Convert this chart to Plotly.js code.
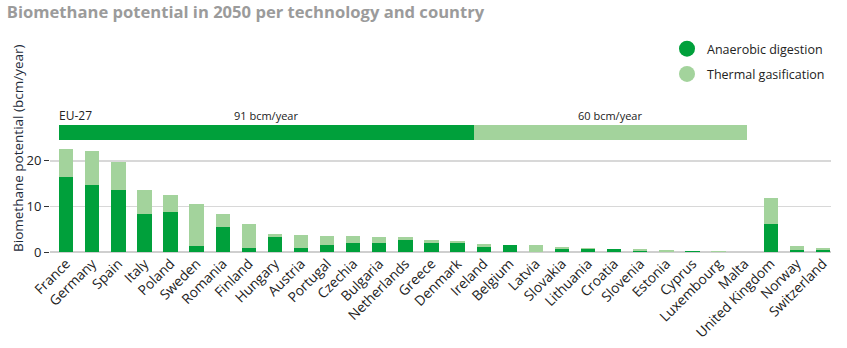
<!DOCTYPE html>
<html>
<head>
<meta charset="utf-8">
<script src="https://cdn.plot.ly/plotly-3.0.1.min.js"></script>
<style>html,body{margin:0;padding:0;background:#fff;}#chart{width:847px;height:348px;}</style>
</head>
<body>
<div id="chart"></div>
<script>
var countries = ["France","Germany","Spain","Italy","Poland","Sweden","Romania","Finland","Hungary","Austria","Portugal","Czechia","Bulgaria","Netherlands","Greece","Denmark","Ireland","Belgium","Latvia","Slovakia","Lithuania","Croatia","Slovenia","Estonia","Cyprus","Luxembourg","Malta","United Kingdom","Norway","Switzerland"];
var anaerobic = [16.5,14.8,13.7,8.3,8.8,1.4,5.4,0.95,3.2,0.8,1.6,1.9,2.0,2.7,2.05,2.05,1.2,1.45,0.1,0.6,0.7,0.7,0.3,0.1,0.15,0.05,0.02,6.1,0.45,0.4];
var thermal = [6.1,7.4,6.1,5.4,3.8,9.1,2.9,5.25,0.8,3.0,2.0,1.7,1.3,0.6,0.6,0.35,0.5,0.05,1.35,0.5,0.25,0.05,0.3,0.35,0.05,0.1,0.08,5.7,0.95,0.55];
var euLabel = ["EU-27"];
var euAnaerobic = [91];
var euThermal = [60];
var yTicks = [0,10,20];

var darkGreen = "#00a03b";
var lightGreen = "#a3d39c";
var font = "'Open Sans', 'DejaVu Sans', sans-serif";

var traces = [
  {type:"bar", x:countries, y:anaerobic, marker:{color:darkGreen}, width:0.55, showlegend:false, hoverinfo:"x+y"},
  {type:"bar", x:countries, y:thermal, marker:{color:lightGreen}, width:0.55, showlegend:false, hoverinfo:"x+y"},
  {type:"bar", orientation:"h", x:euAnaerobic, y:euLabel, xaxis:"x2", yaxis:"y2", marker:{color:darkGreen}, width:1, showlegend:false},
  {type:"bar", orientation:"h", x:euThermal, y:euLabel, xaxis:"x2", yaxis:"y2", marker:{color:lightGreen}, width:1, showlegend:false},
  {type:"scatter", mode:"markers", x:[null], y:[null], name:"Anaerobic digestion", legendgroup:"a", marker:{color:darkGreen, size:16, symbol:"circle"}},
  {type:"scatter", mode:"markers", x:[null], y:[null], name:"Thermal gasification", legendgroup:"b", marker:{color:lightGreen, size:16, symbol:"circle"}}
];

var layout = {
  width:847, height:348,
  margin:{l:50, r:16, t:100, b:96},
  paper_bgcolor:"#fff", plot_bgcolor:"#fff",
  barmode:"stack",
  font:{family:font, size:12, color:"#222"},
  title:{text:"<b>Biomethane potential in 2050 per technology and country</b>", x:0.008, xanchor:"left", y:0.966, yanchor:"middle", font:{family:font, size:16.6, color:"#9b9b9b"}},
  xaxis:{type:"category", range:[-0.62, 29.31], tickangle:-45, showgrid:false, ticks:"", showline:false, zeroline:false, tickfont:{size:13.8, color:"#222"}, fixedrange:true, automargin:false},
  yaxis:{domain:[0,0.72], range:[0,24], tickvals:yTicks, showgrid:true, gridcolor:"#d8d8d8", gridwidth:1.5, zeroline:true, zerolinecolor:"#cfcfcf", zerolinewidth:2, ticks:"outside", ticklen:5, tickcolor:"#333", tickfont:{size:13, color:"#222"}, showline:false, automargin:false},
  xaxis2:{domain:[0,1], anchor:"y2", range:[-2.04, 169.5], visible:false},
  yaxis2:{domain:[0.737,0.836], anchor:"x2", range:[-0.5,0.5], visible:false, type:"category"},
  legend:{x:(667-50)/781, y:1+(100-34)/152, xanchor:"left", yanchor:"top", traceorder:"grouped", font:{size:12.5, color:"#222"}, tracegroupgap:6, bgcolor:"rgba(0,0,0,0)"},
  annotations:[
    {text:"EU-27", xref:"paper", yref:"paper", x:(57-50)/781, y:0.90, xanchor:"left", yanchor:"middle", showarrow:false, font:{size:12, color:"#222"}},
    {text:euAnaerobic[0]+" bcm/year", xref:"x2", yref:"paper", x:euAnaerobic[0]/2, y:0.90, xanchor:"center", yanchor:"middle", showarrow:false, font:{size:11, color:"#222"}},
    {text:euThermal[0]+" bcm/year", xref:"x2", yref:"paper", x:euAnaerobic[0]+euThermal[0]/2, y:0.90, xanchor:"center", yanchor:"middle", showarrow:false, font:{size:11, color:"#222"}},
    {text:"Biomethane potential (bcm/year)", xref:"paper", yref:"paper", x:(18-50)/781, y:(252-149)/152, xanchor:"center", yanchor:"middle", textangle:-90, showarrow:false, font:{size:13.5, color:"#1d2b3a"}}
  ]
};

Plotly.newPlot("chart", traces, layout, {displayModeBar:false, staticPlot:true});
</script>
</body>
</html>
